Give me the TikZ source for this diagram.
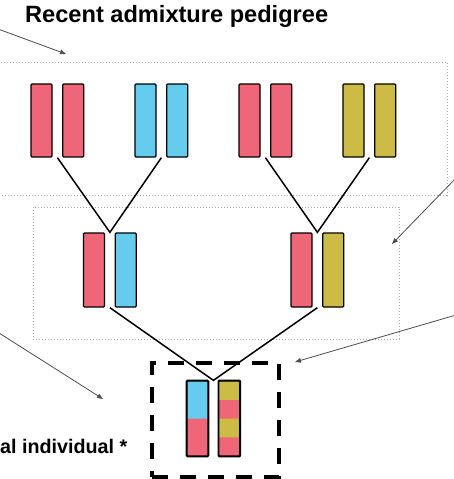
\documentclass[tikz,border=0pt]{standalone}
\usepackage{fontspec}
\newfontfamily\arialfont{Liberation Sans}
\usetikzlibrary{arrows.meta, positioning, calc}
\definecolor{chrred}{HTML}{EE6677}
\definecolor{chrblue}{HTML}{66CCEE}
\definecolor{chryellow}{HTML}{CCBB44}

\begin{document}
\begin{tikzpicture}[x=1pt, y=-1pt,
    node distance=0pt and 9.5pt,
    chr/.style={rectangle, rounded corners=1pt, draw, line width=1.3pt,
      minimum width=21pt, minimum height=73pt, inner sep=0pt},
    gen/.style={rectangle, draw=gray!70, line width=0.9pt,
      dash pattern=on 1.3pt off 1.7pt, inner sep=0pt},
    focus/.style={rectangle, draw, line width=3.8pt,
      dash pattern=on 16pt off 12pt, inner sep=0pt},
    lbl/.style={font=\arialfont\bfseries\fontsize{#1}{#1}\selectfont, inner sep=0pt},
    lin/.style={line width=1.5pt},
    note/.style={draw=black!70, line width=0.8pt, -{Triangle[length=6pt, width=4.5pt]}}
  ]
    \useasboundingbox (0,0) rectangle (453,479);

    \node[gen, minimum width=454pt, minimum height=133pt] (gen1) at (220,128.5) {};
    \node[gen, minimum width=366pt, minimum height=132pt] (gen2) at (216,273) {};
    \node[focus, minimum width=127pt, minimum height=114pt] (gen3) at (215.5,420) {};

    \node[lbl=23.6, anchor=base west] (title) at (25,23) {Recent admixture pedigree};
    \node[lbl=19.7, anchor=base west] (focal) at (0,453) {al individual *};

    \node[chr, fill=chrred] (gp1a) at (41.5,120.5) {};
    \node[chr, fill=chrred, right=of gp1a] (gp1b) {};
    \node[chr, fill=chrblue] (gp2a) at (145.5,120.5) {};
    \node[chr, fill=chrblue, right=of gp2a] (gp2b) {};
    \node[chr, fill=chrred] (gp3a) at (249.5,120.5) {};
    \node[chr, fill=chrred, right=of gp3a] (gp3b) {};
    \node[chr, fill=chryellow] (gp4a) at (353.5,120.5) {};
    \node[chr, fill=chryellow, right=of gp4a] (gp4b) {};

    \node[chr, fill=chrred, minimum height=74pt] (p1a) at (94,270) {};
    \node[chr, fill=chrblue, minimum height=74pt, right=of p1a] (p1b) {};
    \node[chr, fill=chrred, minimum height=74pt] (p2a) at (301.5,270) {};
    \node[chr, fill=chryellow, minimum height=74pt, right=of p2a] (p2b) {};

    \node[chr, fill=chrred, minimum height=75pt, path picture={
        \fill[chrblue] (path picture bounding box.north west) rectangle (path picture bounding box.east);
      }] (ia) at (197.5,418.5) {};
    \node[chr, fill=chrred, minimum height=75pt, right=of ia, path picture={
        \fill[chryellow] (path picture bounding box.north west) rectangle
          ($(path picture bounding box.north east)!.25!(path picture bounding box.south east)$);
        \fill[chryellow] (path picture bounding box.west) rectangle
          ($(path picture bounding box.north east)!.75!(path picture bounding box.south east)$);
      }] (ib) {};
    \draw[line width=1.3pt, rounded corners=1pt] (ia.north west) rectangle (ia.south east);
    \draw[line width=1.3pt, rounded corners=1pt] (ib.north west) rectangle (ib.south east);

    \coordinate (gp1) at ($(gp1a.south east)!.5!(gp1b.south west)$);
    \coordinate (gp2) at ($(gp2a.south east)!.5!(gp2b.south west)$);
    \coordinate (gp3) at ($(gp3a.south east)!.5!(gp3b.south west)$);
    \coordinate (gp4) at ($(gp4a.south east)!.5!(gp4b.south west)$);
    \coordinate (p1top) at ($(p1a.north east)!.5!(p1b.north west)$);
    \coordinate (p2top) at ($(p2a.north east)!.5!(p2b.north west)$);
    \coordinate (p1) at ($(p1a.south east)!.5!(p1b.south west)$);
    \coordinate (p2) at ($(p2a.south east)!.5!(p2b.south west)$);
    \coordinate (itop) at ($(ia.north east)!.5!(ib.north west)$);

    \draw[lin] (gp1) -- (p1top) -- (gp2);
    \draw[lin] (gp3) -- (p2top) -- (gp4);
    \draw[lin] (p1) -- (itop) -- (p2);

    \coordinate (n1s) at (-2,29);
    \coordinate (n1e) at (66,54);
    \coordinate (n2s) at (456,178);
    \coordinate (n2e) at (392,244);
    \coordinate (n3s) at (-1,333);
    \coordinate (n3e) at (103,399);
    \coordinate (n4s) at (456,315);
    \coordinate (n4e) at (295,362);
    \draw[note] (n1s) -- (n1e);
    \draw[note] (n2s) -- (n2e);
    \draw[note] (n3s) -- (n3e);
    \draw[note] (n4s) -- (n4e);
  \end{tikzpicture}
\end{document}
